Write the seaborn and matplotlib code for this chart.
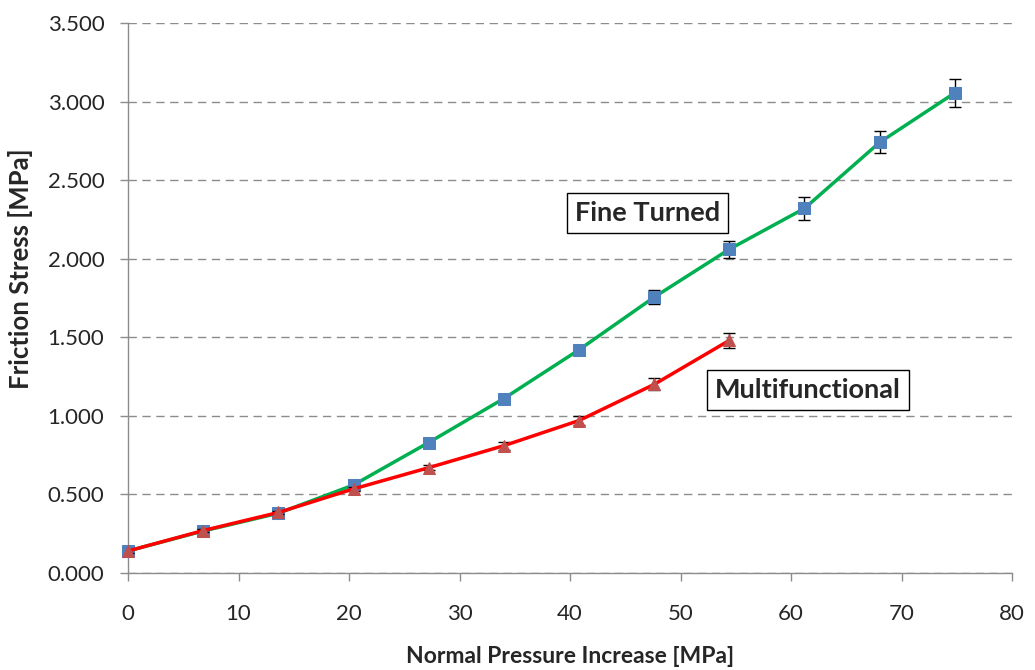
import matplotlib
matplotlib.use("Agg")
import matplotlib.pyplot as plt
import seaborn as sns
import pandas as pd
import numpy as np

# Data
pressure_ft = [0, 6.8, 13.6, 20.4, 27.2, 34.0, 40.8, 47.6, 54.4, 61.2, 68.0, 74.8]
stress_ft = [0.14, 0.267, 0.38, 0.56, 0.83, 1.11, 1.42, 1.755, 2.06, 2.32, 2.74, 3.055]
err_ft = [0.01, 0.01, 0.01, 0.012, 0.015, 0.015, 0.015, 0.045, 0.055, 0.075, 0.07, 0.09]

pressure_mf = [0, 6.8, 13.6, 20.4, 27.2, 34.0, 40.8, 47.6, 54.4]
stress_mf = [0.14, 0.27, 0.385, 0.535, 0.67, 0.81, 0.97, 1.20, 1.48]
err_mf = [0.01, 0.01, 0.01, 0.012, 0.015, 0.025, 0.03, 0.038, 0.048]

x_ticks = [0, 10, 20, 30, 40, 50, 60, 70, 80]
y_ticks = [0.0, 0.5, 1.0, 1.5, 2.0, 2.5, 3.0, 3.5]

sns.set_style("white")
plt.rcParams['font.family'] = ['Lato', 'DejaVu Sans']

fig = plt.figure(figsize=(10.35, 6.7), dpi=100)
ax = fig.add_axes([0.1237, 0.1448, 0.8543, 0.8209])

df_ft = pd.DataFrame({"x": pressure_ft, "y": stress_ft})
df_mf = pd.DataFrame({"x": pressure_mf, "y": stress_mf})

ax.errorbar(pressure_ft, stress_ft, yerr=err_ft, fmt="none", ecolor="black",
            elinewidth=1, capsize=4, capthick=1, zorder=2)
sns.lineplot(data=df_ft, x="x", y="y", ax=ax, color="#00B050", linewidth=2.5,
             marker="s", markersize=9, markerfacecolor="#4F81BD",
             markeredgecolor="#4F81BD", zorder=3, clip_on=False)

ax.errorbar(pressure_mf, stress_mf, yerr=err_mf, fmt="none", ecolor="black",
            elinewidth=1, capsize=4, capthick=1, zorder=4)
sns.lineplot(data=df_mf, x="x", y="y", ax=ax, color="#FF0000", linewidth=2.5,
             marker="^", markersize=9, markerfacecolor="#C0504D",
             markeredgecolor="#C0504D", zorder=5, clip_on=False)

ax.set_xlim(0, 80)
ax.set_ylim(0, 3.5)
ax.set_xticks(x_ticks)
ax.set_yticks(y_ticks)
ax.set_xticklabels([str(t) for t in x_ticks], fontsize=16)
ax.set_yticklabels([f"{t:.3f}" for t in y_ticks], fontsize=16)

ax.yaxis.grid(True, linestyle=(0, (6, 4)), color="#8C8C8C", linewidth=1)
ax.xaxis.grid(False)
ax.set_axisbelow(True)

for s in ["top", "right"]:
    ax.spines[s].set_visible(False)
for s in ["left", "bottom"]:
    ax.spines[s].set_color("#8C8C8C")
    ax.spines[s].set_linewidth(1)

ax.tick_params(axis="both", which="major", direction="out", length=6,
               color="#8C8C8C", width=1, bottom=True, left=True)
ax.tick_params(axis="x", pad=16)
ax.tick_params(axis="y", pad=11)

ax.set_xlabel("Normal Pressure Increase [MPa]", fontsize=16.5, fontweight="bold")
ax.set_ylabel("Friction Stress [MPa]", fontsize=18.5, fontweight="bold")
ax.xaxis.set_label_coords(0.5, -0.133)
ax.yaxis.set_label_coords(-0.108, 0.553)

box = dict(boxstyle="square,pad=0.3", facecolor="white", edgecolor="black", linewidth=1)
ax.text(47.0, 2.29, "Fine Turned", fontsize=19.5, fontweight="bold", ha="center",
        va="center", bbox=box, zorder=10)
ax.text(61.5, 1.165, "Multifunctional", fontsize=19.5, fontweight="bold", ha="center",
        va="center", bbox=box, zorder=10)

fig.savefig("out.png", dpi=100)
